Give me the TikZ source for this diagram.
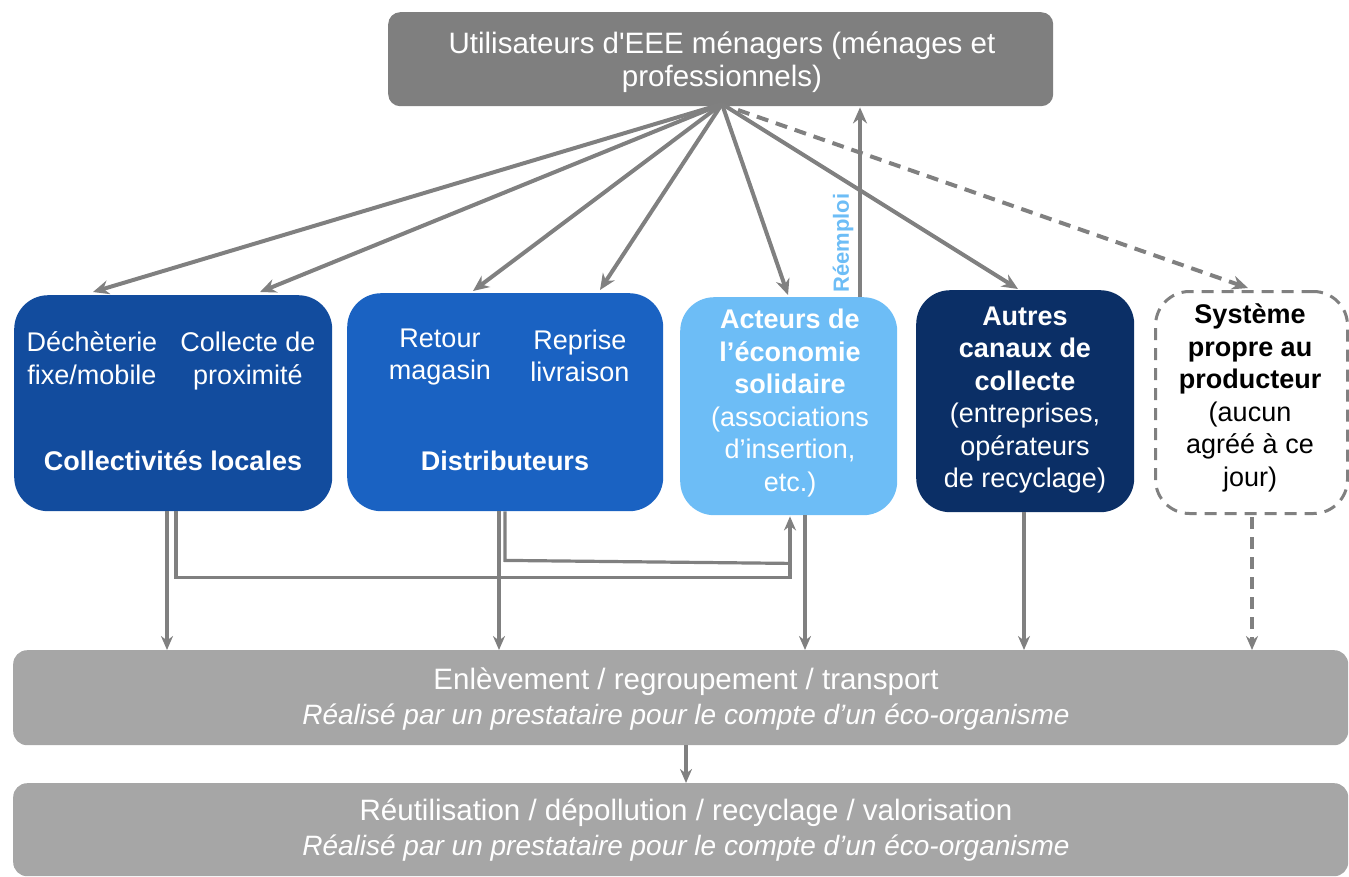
\documentclass[tikz,border=0pt]{standalone}
\usepackage{fontspec}
\setmainfont{Liberation Sans}
\usetikzlibrary{arrows.meta,calc}
\definecolor{topgray}{HTML}{7F7F7F}
\definecolor{bargray}{HTML}{A6A6A6}
\definecolor{arrgray}{HTML}{808080}
\definecolor{collblue}{HTML}{124C9E}
\definecolor{distblue}{HTML}{1A62C2}
\definecolor{actblue}{HTML}{6DBDF6}
\definecolor{navyblue}{HTML}{0B2F66}
\tikzset{
  bluebox/.style={rounded corners=34pt, anchor=north west, inner sep=0pt},
  graybar/.style={fill=bargray, rounded corners=14pt, anchor=north west, inner sep=0pt},
  txt/.style={text=white, align=center, inner sep=0pt, font=\fontsize{27}{32.5}\selectfont},
  fanarr/.style={draw=arrgray, line width=4pt, -{Stealth[length=16pt,width=14pt]}},
  lowarr/.style={draw=arrgray, line width=3.2pt, -{Stealth[length=14pt,width=12pt]}},
  lowline/.style={draw=arrgray, line width=3.2pt},
  dashedline/.style={dash pattern=on 12pt off 8pt}
}
\begin{document}
\begin{tikzpicture}[x=1pt,y=-1pt]
\useasboundingbox (0,0) rectangle (1349,876);
% top box
\node[fill=topgray, rounded corners=12pt, anchor=north west, inner sep=0pt,
      minimum width=665pt, minimum height=94pt] (top) at (388,12) {};
\node[txt, font=\fontsize{29.5}{33}\selectfont] (topt) at (722,62) {Utilisateurs d\textquotesingle EEE ménagers (ménages et\\professionnels)};
\coordinate (fan) at (722,104);
% row boxes
\node[bluebox, fill=collblue, minimum width=318pt, minimum height=216pt] (coll) at (14,295) {};
\node[bluebox, fill=distblue, minimum width=316pt, minimum height=218pt] (dist) at (347,293) {};
\node[bluebox, fill=actblue, minimum width=217pt, minimum height=218pt] (act) at (680,297) {};
\node[bluebox, fill=navyblue, minimum width=218pt, minimum height=222pt] (autres) at (916,290) {};
\node[bluebox, draw=arrgray, line width=3pt, dashedline, fill=white, minimum width=192pt, minimum height=222pt] (sys) at (1154,290) {};
% texts in Collectivites
\node[txt] (dech) at (92,358) {Déchèterie\\fixe/mobile};
\node[txt] (collp) at (248,361) {Collecte de\\proximité};
\node[txt, font=\bfseries\fontsize{27}{32.5}\selectfont] (collt) at (173,461) {Collectivités locales};
% texts in Distributeurs
\node[txt] (retour) at (440,357) {Retour\\magasin};
\node[txt] (reprise) at (580,356) {Reprise\\livraison};
\node[txt, font=\bfseries\fontsize{27}{32.5}\selectfont] (distt) at (505,461) {Distributeurs};
% Acteurs / Autres / Systeme
\node[txt] (actt) at (790,403) {\textbf{Acteurs de}\\\textbf{l'économie}\\\textbf{solidaire}\\(associations\\d'insertion,\\etc.)};
\node[txt] (autt) at (1025,400) {\textbf{Autres}\\\textbf{canaux de}\\\textbf{collecte}\\(entreprises,\\opérateurs\\de recyclage)};
\node[txt, text=black] (syst) at (1250,398) {\textbf{Système}\\\textbf{propre au}\\\textbf{producteur}\\(aucun\\agréé à ce\\jour)};
% bars
\node[graybar, minimum width=1335pt, minimum height=95pt] (bar1) at (13,650) {};
\node[txt, font=\fontsize{28}{35}\selectfont] (bar1t) at (686,699) {{\fontsize{29.5}{35}\selectfont Enlèvement / regroupement / transport}\\\itshape Réalisé par un prestataire pour le compte d'un éco-organisme};
\node[graybar, minimum width=1335pt, minimum height=93pt] (bar2) at (13,783) {};
\node[txt, font=\fontsize{28}{35}\selectfont] (bar2t) at (686,830) {{\fontsize{29.5}{35}\selectfont Réutilisation / dépollution / recyclage / valorisation}\\\itshape Réalisé par un prestataire pour le compte d'un éco-organisme};
% fan arrows
\draw[fanarr] (fan) -- ($(coll.north west)+(79,-3)$);
\draw[fanarr] (fan) -- ($(coll.north west)+(246,-3)$);
\draw[fanarr] (fan) -- ($(dist.north west)+(126,-2)$);
\draw[fanarr] (fan) -- ($(dist.north west)+(253,-3)$);
\draw[fanarr] (fan) -- ($(act.north west)+(108,-2)$);
\draw[fanarr] (fan) -- ($(autres.north west)+(102,-1)$);
\draw[fanarr, dashedline] ($(fan)+(16,6)$) -- ($(sys.north west)+(94,-2)$);
% Reemploi
\draw[fanarr, line width=3.5pt] ($(act.north west)+(180,0)$) -- ($(top.south west)+(472,1)$);
\node[rotate=90, text=actblue, font=\bfseries\fontsize{22}{26}\selectfont, inner sep=0pt] (reemploi) at (843,243) {Réemploi};
% lower connections
\draw[lowarr] ($(coll.south west)+(153,0)$) -- ($(bar1.north west)+(154,0)$);
\draw[lowline] ($(dist.south west)+(158,0)$) -- ++(0,49) -- ($(act.south west)+(110,48)$);
\draw[lowarr] ($(coll.south west)+(162,0)$) -- ++(0,66) -| ($(act.south west)+(110,1)$);
\draw[lowarr] ($(dist.south west)+(152,0)$) -- ($(bar1.north west)+(486,0)$);
\draw[lowarr] ($(act.south west)+(125,0)$) -- ($(bar1.north west)+(792,0)$);
\draw[lowarr] ($(autres.south west)+(108,0)$) -- ($(bar1.north west)+(1011,0)$);
\draw[lowarr, dashedline] ($(sys.south west)+(98,2)$) -- ($(bar1.north west)+(1239,0)$);
\draw[lowarr] ($(bar1.south west)+(673,0)$) -- ($(bar2.north west)+(673,0)$);
\end{tikzpicture}
\end{document}
